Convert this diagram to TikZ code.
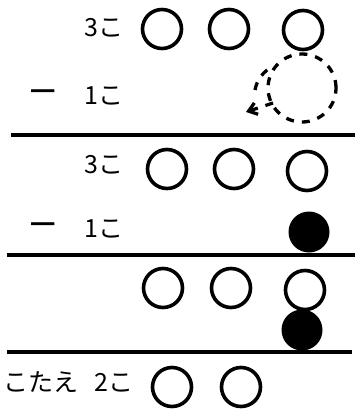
\documentclass[tikz,border=0pt]{standalone}
\usepackage{fontspec}
\newfontfamily\jp{Noto Sans CJK JP}
\newfontfamily\jpb[FakeBold=2.5]{Noto Sans CJK JP}
\usetikzlibrary{arrows.meta}
\begin{document}
\begin{tikzpicture}[x=1pt,y=-1pt,
  lbl/.style={inner sep=0pt,anchor=west,font=\jp\fontsize{25}{25}\selectfont},
  mns/.style={inner sep=0pt,anchor=west,font=\jpb\fontsize{31}{31}\selectfont},
  ball/.style={circle,draw,line width=3.6pt,minimum size=39pt,inner sep=0pt},
  fball/.style={circle,fill=black,minimum size=41pt,inner sep=0pt},
  rule/.style={line width=3.2pt},
  dsh/.style={line width=3.3pt,dash pattern=on 8pt off 8pt}]
\useasboundingbox (0,0) rectangle (358,414);
% row 1
\node[lbl] (t1) at (84,28) {3こ};
\node[ball] (a1) at (162,29) {};
\node[ball] (a2) at (229,29) {};
\node[ball] (a3) at (303,30) {};
% row 2
\node[mns] (m1) at (27,96) {－};
\node[lbl] (t2) at (84,96) {1こ};
\node[circle,draw,dsh,minimum size=68pt,inner sep=0pt] (d1) at (302,88) {};
\draw[dsh] (255,90) arc[start angle=190,end angle=245,radius=32];
\coordinate (as) at (273,103);
\coordinate (ae) at (246,112);
\draw[dsh,-{Straight Barb[length=8pt,width=12pt]}] (as) -- (ae);
% line 1
\coordinate (l1a) at (11,135);
\coordinate (l1b) at (355,135);
\draw[rule] (l1a) -- (l1b);
% row 3
\node[lbl] (t3) at (84,165) {3こ};
\node[ball] (b1) at (167,169) {};
\node[ball] (b2) at (234,169) {};
\node[ball] (b3) at (307,171) {};
% row 4
\node[mns] (m2) at (27,229) {－};
\node[lbl] (t4) at (84,229) {1こ};
\node[fball] (f1) at (309,232) {};
% line 2
\coordinate (l2a) at (7,255);
\coordinate (l2b) at (355,255);
\draw[rule] (l2a) -- (l2b);
% row 5
\node[ball] (c1) at (163,288) {};
\node[ball] (c2) at (231,288) {};
\node[ball] (c3) at (305,290) {};
\node[fball] (f2) at (302,330) {};
% line 3
\coordinate (l3a) at (7,352);
\coordinate (l3b) at (352,352);
\draw[rule] (l3a) -- (l3b);
% answer
\node[lbl] (t5) at (3,382) {こたえ\hspace{16pt}2こ};
\node[ball] (e1) at (172,387) {};
\node[ball] (e2) at (241,387) {};
\end{tikzpicture}
\end{document}
